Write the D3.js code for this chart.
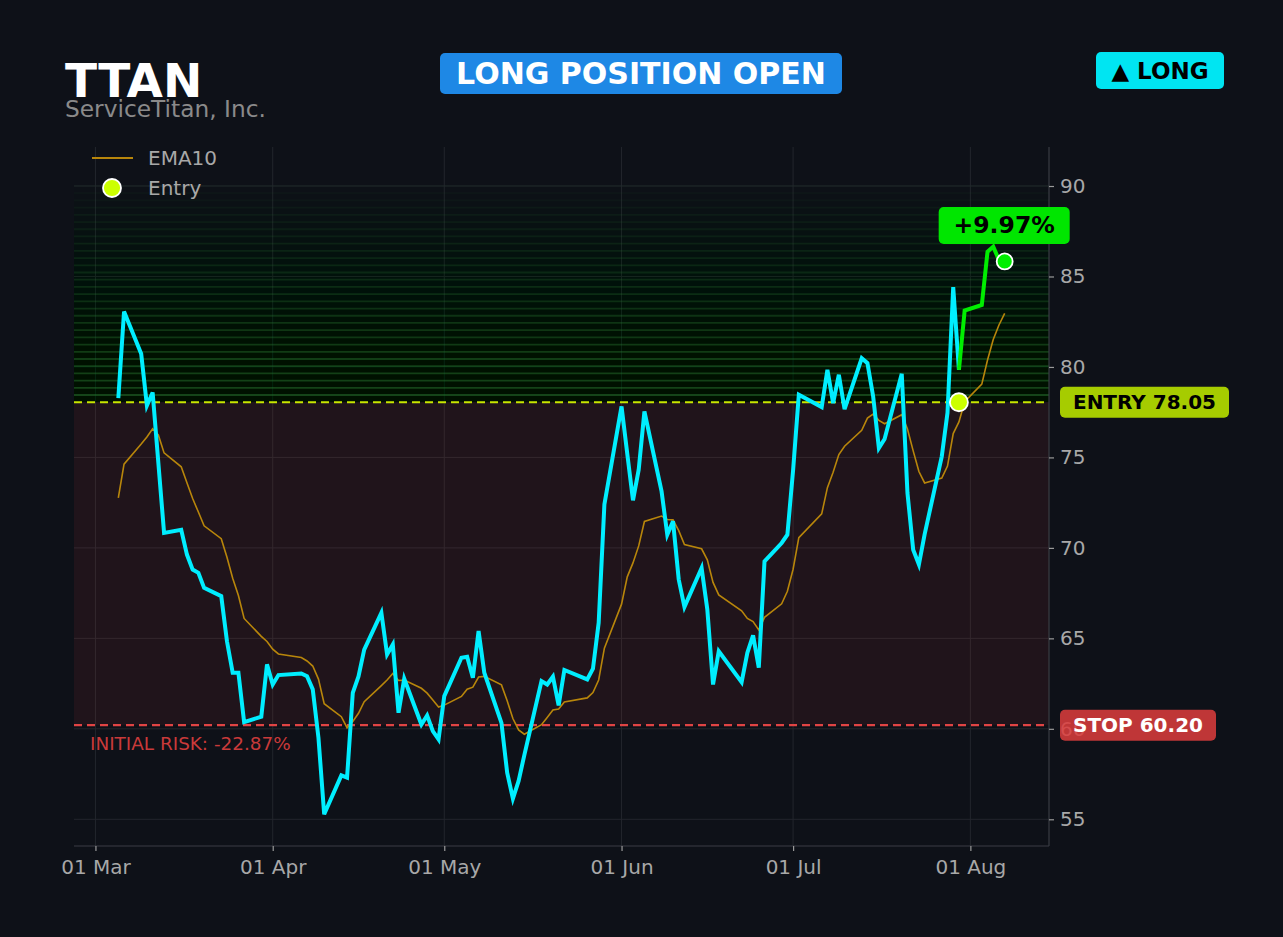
<!DOCTYPE html>
<html lang="en">
<head>
    <meta charset="UTF-8">
    <title>TTAN - Long Position Open</title>
    <style>
        body {
            margin: 0;
            padding: 0;
            background-color: #0e1118;
            font-family: "DejaVu Sans", sans-serif;
        }
        #chart svg {
            display: block;
        }
    </style>
</head>
<body>

<div id="chart"></div>

<script src="https://d3js.org/d3.v7.min.js"></script>

<script>
    // trading days (2026)
    const dates = [
        "2026-03-05", "2026-03-06", "2026-03-09", "2026-03-10", "2026-03-11", "2026-03-12", "2026-03-13",
        "2026-03-16", "2026-03-17", "2026-03-18", "2026-03-19", "2026-03-20",
        "2026-03-23", "2026-03-24", "2026-03-25", "2026-03-26", "2026-03-27",
        "2026-03-30", "2026-03-31", "2026-04-01", "2026-04-02",
        "2026-04-06", "2026-04-07", "2026-04-08", "2026-04-09", "2026-04-10",
        "2026-04-13", "2026-04-14", "2026-04-15", "2026-04-16", "2026-04-17",
        "2026-04-20", "2026-04-21", "2026-04-22", "2026-04-23", "2026-04-24",
        "2026-04-27", "2026-04-28", "2026-04-29", "2026-04-30", "2026-05-01",
        "2026-05-04", "2026-05-05", "2026-05-06", "2026-05-07", "2026-05-08",
        "2026-05-11", "2026-05-12", "2026-05-13", "2026-05-14", "2026-05-15",
        "2026-05-18", "2026-05-19", "2026-05-20", "2026-05-21", "2026-05-22",
        "2026-05-26", "2026-05-27", "2026-05-28", "2026-05-29",
        "2026-06-01", "2026-06-02", "2026-06-03", "2026-06-04", "2026-06-05",
        "2026-06-08", "2026-06-09", "2026-06-10", "2026-06-11", "2026-06-12",
        "2026-06-15", "2026-06-16", "2026-06-17", "2026-06-18",
        "2026-06-22", "2026-06-23", "2026-06-24", "2026-06-25", "2026-06-26",
        "2026-06-29", "2026-06-30", "2026-07-01", "2026-07-02",
        "2026-07-06", "2026-07-07", "2026-07-08", "2026-07-09", "2026-07-10",
        "2026-07-13", "2026-07-14", "2026-07-15", "2026-07-16", "2026-07-17",
        "2026-07-20", "2026-07-21", "2026-07-22", "2026-07-23", "2026-07-24",
        "2026-07-27", "2026-07-28", "2026-07-29", "2026-07-30", "2026-07-31",
        "2026-08-03", "2026-08-04", "2026-08-05", "2026-08-06", "2026-08-07"
    ];

    const closes = [
        78.28, 83.06, 80.73, 77.87, 78.59, 74.70, 70.83,
        71.00, 69.63, 68.80, 68.62, 67.79,
        67.33, 64.84, 63.10, 63.10, 60.37,
        60.67, 63.56, 62.45, 62.97,
        63.06, 62.91, 62.18, 59.50, 55.28,
        57.43, 57.30, 61.99, 62.90, 64.38,
        66.41, 64.11, 64.66, 60.89, 62.77,
        60.24, 60.74, 59.87, 59.42, 61.81,
        63.93, 63.98, 62.82, 65.40, 63.10,
        60.33, 57.57, 56.14, 57.12, 58.55,
        62.64, 62.45, 62.88, 61.29, 63.25,
        62.73, 63.32, 65.86, 72.40,
        77.82, 75.20, 72.63, 74.32, 77.54,
        73.12, 70.73, 71.47, 68.25, 66.74,
        68.89, 66.59, 62.45, 64.29,
        62.58, 64.20, 65.16, 63.38, 69.26,
        70.27, 70.73, 74.30, 78.46,
        77.78, 79.84, 78.00, 79.57, 77.67,
        80.48, 80.21, 78.37, 75.52, 76.02,
        79.62, 73.03, 69.90, 69.08, 70.75,
        75.06, 77.47, 84.41, 79.84, 83.12,
        83.43, 86.37, 86.65, 85.91, 85.83
    ];

    const ema10 = [
        72.76, 74.63, 75.74, 76.13, 76.58, 76.24, 75.25,
        74.48, 73.60, 72.73, 71.98, 71.22,
        70.51, 69.48, 68.32, 67.37, 66.10,
        65.11, 64.83, 64.40, 64.14,
        63.94, 63.75, 63.47, 62.75, 61.39,
        60.67, 60.06, 60.41, 60.86, 61.50,
        62.39, 62.70, 63.06, 62.67, 62.69,
        62.24, 61.97, 61.59, 61.20, 61.31,
        61.79, 62.19, 62.30, 62.86, 62.90,
        62.43, 61.55, 60.57, 59.94, 59.70,
        60.23, 60.63, 61.04, 61.09, 61.48,
        61.71, 62.00, 62.70, 64.46,
        66.89, 68.40, 69.17, 70.11, 71.46,
        71.76, 71.57, 71.55, 70.95, 70.18,
        69.95, 69.34, 68.09, 67.40,
        66.52, 66.10, 65.93, 65.47, 66.16,
        66.91, 67.60, 68.82, 70.57,
        71.88, 73.33, 74.18, 75.16, 75.62,
        76.50, 77.17, 77.39, 77.05, 76.86,
        77.36, 76.57, 75.36, 74.22, 73.59,
        73.86, 74.52, 76.32, 76.96, 78.08,
        79.05, 80.38, 81.52, 82.32, 82.96
    ];

    const ticker = "TTAN";
    const companyName = "ServiceTitan, Inc.";
    const entryDate = "2026-07-30";
    const entryPrice = 78.05;
    const stopPrice = 60.20;
    const greenTop = 90;
    const yTicks = [55, 60, 65, 70, 75, 80, 85, 90];

    const W = 1283, H = 937;
    const plot = { left: 74, right: 1049, top: 147, bottom: 846 };

    const parse = d3.utcParse("%Y-%m-%d");
    const data = dates.map((d, i) => ({ date: parse(d), close: closes[i], ema: ema10[i] }));
    const entryD = parse(entryDate);
    const last = data[data.length - 1];
    const gain = (last.close / entryPrice - 1) * 100;
    const risk = (stopPrice / entryPrice - 1) * 100;

    // 5% padding like the original
    const xExt = d3.extent(data, d => d.date);
    const xPad = (xExt[1] - xExt[0]) * 0.05;
    const yMin = d3.min(closes), yMax = greenTop + 0.4;
    const yPad = (yMax - yMin) * 0.05;

    const x = d3.scaleUtc()
        .domain([new Date(+xExt[0] - xPad), new Date(+xExt[1] + xPad)])
        .range([plot.left, plot.right]);

    const y = d3.scaleLinear()
        .domain([yMin - yPad, yMax + yPad])
        .range([plot.bottom, plot.top]);

    const svg = d3.select("#chart")
        .append("svg")
        .attr("width", W)
        .attr("height", H);

    svg.append("rect").attr("width", W).attr("height", H).attr("fill", "#0e1118");

    // grid
    const monthTicks = x.ticks(d3.utcMonth.every(1));
    svg.append("g").selectAll("line").data(monthTicks).join("line")
        .attr("x1", d => x(d)).attr("x2", d => x(d))
        .attr("y1", plot.top).attr("y2", plot.bottom)
        .attr("stroke", "#23262d").attr("stroke-width", 1);
    svg.append("g").selectAll("line").data(yTicks).join("line")
        .attr("x1", plot.left).attr("x2", plot.right)
        .attr("y1", d => y(d)).attr("y2", d => y(d))
        .attr("stroke", "#23262d").attr("stroke-width", 1);

    // risk zone
    svg.append("rect")
        .attr("x", plot.left).attr("width", plot.right - plot.left)
        .attr("y", y(entryPrice)).attr("height", y(stopPrice) - y(entryPrice))
        .attr("fill", "#ff3b3b").attr("opacity", 0.08);

    // profit zone, stacked bands
    const nBands = 30;
    const bands = d3.range(1, nBands + 1).map(i => entryPrice + (greenTop - entryPrice) * i / nBands);
    svg.append("g").selectAll("rect").data(bands).join("rect")
        .attr("x", plot.left).attr("width", plot.right - plot.left)
        .attr("y", d => y(d)).attr("height", d => y(entryPrice) - y(d))
        .attr("fill", "#1faa3c").attr("opacity", 0.006);
    svg.append("g").selectAll("line").data(bands).join("line")
        .attr("x1", plot.left).attr("x2", plot.right)
        .attr("y1", d => y(d)).attr("y2", d => y(d))
        .attr("stroke", "#2a7a32")
        .attr("stroke-width", 1.8)
        .attr("opacity", (d, i) => 0.5 - 0.46 * i / (nBands - 1));

    // spines
    svg.append("line")
        .attr("x1", plot.left).attr("x2", plot.right)
        .attr("y1", plot.bottom).attr("y2", plot.bottom)
        .attr("stroke", "#3a3d44").attr("stroke-width", 1.2);
    svg.append("line")
        .attr("x1", plot.right).attr("x2", plot.right)
        .attr("y1", plot.top).attr("y2", plot.bottom)
        .attr("stroke", "#3a3d44").attr("stroke-width", 1.2);

    // axes
    const xAxis = svg.append("g")
        .attr("transform", "translate(0," + plot.bottom + ")")
        .call(d3.axisBottom(x).tickValues(monthTicks).tickFormat(d3.utcFormat("%d %b")).tickSize(5).tickPadding(9));
    const yAxis = svg.append("g")
        .attr("transform", "translate(" + plot.right + ",0)")
        .call(d3.axisRight(y).tickValues(yTicks).tickSize(5).tickPadding(6));
    [xAxis, yAxis].forEach(a => {
        a.select(".domain").remove();
        a.selectAll(".tick line").attr("stroke", "#9a9a9a").attr("stroke-width", 1.2);
        a.selectAll(".tick text")
            .attr("fill", "#a8a8a8")
            .style("font-family", "DejaVu Sans")
            .style("font-size", "20px");
    });

    // entry / stop lines
    svg.append("line")
        .attr("x1", plot.left).attr("x2", plot.right)
        .attr("y1", y(entryPrice)).attr("y2", y(entryPrice))
        .attr("stroke", "#c8e600").attr("stroke-width", 2.2)
        .attr("stroke-dasharray", "8,5");
    svg.append("line")
        .attr("x1", plot.left).attr("x2", plot.right)
        .attr("y1", y(stopPrice)).attr("y2", y(stopPrice))
        .attr("stroke", "#e04444").attr("stroke-width", 2.2)
        .attr("stroke-dasharray", "8,5");

    svg.append("text")
        .attr("x", plot.left + 16).attr("y", y(stopPrice) + 25)
        .attr("fill", "#c93a3a")
        .style("font-size", "18.4px")
        .text("INITIAL RISK: " + risk.toFixed(2) + "%");

    // EMA10
    const line = d3.line()
        .x(d => x(d.date))
        .y(d => y(d.close));
    const emaLine = d3.line()
        .x(d => x(d.date))
        .y(d => y(d.ema));

    svg.append("path")
        .datum(data)
        .attr("fill", "none")
        .attr("stroke", "#b8860b")
        .attr("stroke-width", 1.6)
        .attr("d", emaLine);

    // price before / after entry
    const before = data.filter(d => d.date <= entryD);
    const after = data.filter(d => d.date >= entryD);

    svg.append("path")
        .datum(before)
        .attr("fill", "none")
        .attr("stroke", "#00eeff")
        .attr("stroke-width", 4)
        .attr("d", line);

    svg.append("path")
        .datum(after)
        .attr("fill", "none")
        .attr("stroke", "#00ee00")
        .attr("stroke-width", 4)
        .attr("d", line);

    // markers
    svg.append("circle")
        .attr("cx", x(entryD)).attr("cy", y(entryPrice)).attr("r", 9)
        .attr("fill", "#ccff00").attr("stroke", "#ffffff").attr("stroke-width", 1.8);
    svg.append("circle")
        .attr("cx", x(last.date)).attr("cy", y(last.close)).attr("r", 8)
        .attr("fill", "#00ee00").attr("stroke", "#ffffff").attr("stroke-width", 1.8);

    // badges
    function badge(cx, cy, w, h, fill, txt, color, size, opacity) {
        const g = svg.append("g");
        g.append("rect")
            .attr("x", cx - w / 2).attr("y", cy - h / 2)
            .attr("width", w).attr("height", h)
            .attr("rx", 5)
            .attr("fill", fill)
            .attr("opacity", opacity || 1);
        g.append("text")
            .attr("x", cx).attr("y", cy)
            .attr("text-anchor", "middle")
            .attr("dominant-baseline", "central")
            .attr("fill", color)
            .style("font-weight", "bold")
            .style("font-size", size + "px")
            .text(txt);
        return g;
    }

    badge(1144.5, y(entryPrice), 169, 31, "#a6cc00", "ENTRY " + entryPrice.toFixed(2), "#000000", 20);
    badge(1138, y(stopPrice), 156, 31, "#dc3c3c", "STOP " + stopPrice.toFixed(2), "#ffffff", 20, 0.86);
    badge(x(last.date) - 0.5, y(last.close) - 36, 131, 37, "#00e600", "+" + gain.toFixed(2) + "%", "#000000", 23.5);

    // header
    svg.append("text")
        .attr("x", 65).attr("y", 97)
        .attr("fill", "#ffffff")
        .style("font-weight", "bold")
        .style("font-size", "47px")
        .text(ticker);
    svg.append("text")
        .attr("x", 65).attr("y", 117)
        .attr("fill", "#8a8a8a")
        .style("font-size", "23.3px")
        .text(companyName);

    badge(641, 73.5, 402, 41, "#1e88e5", "LONG POSITION OPEN", "#ffffff", 30);
    badge(1160, 70.5, 128, 37, "#00e5f2", "▲ LONG", "#000000", 23);

    // legend
    const legend = svg.append("g");
    legend.append("line")
        .attr("x1", 92).attr("x2", 133).attr("y1", 158).attr("y2", 158)
        .attr("stroke", "#b8860b").attr("stroke-width", 2);
    legend.append("text")
        .attr("x", 148).attr("y", 165)
        .attr("fill", "#a8a8a8").style("font-size", "20px")
        .text("EMA10");
    legend.append("circle")
        .attr("cx", 112).attr("cy", 188).attr("r", 9)
        .attr("fill", "#ccff00").attr("stroke", "#ffffff").attr("stroke-width", 1.8);
    legend.append("text")
        .attr("x", 148).attr("y", 195)
        .attr("fill", "#a8a8a8").style("font-size", "20px")
        .text("Entry");
</script>

</body>
</html>
